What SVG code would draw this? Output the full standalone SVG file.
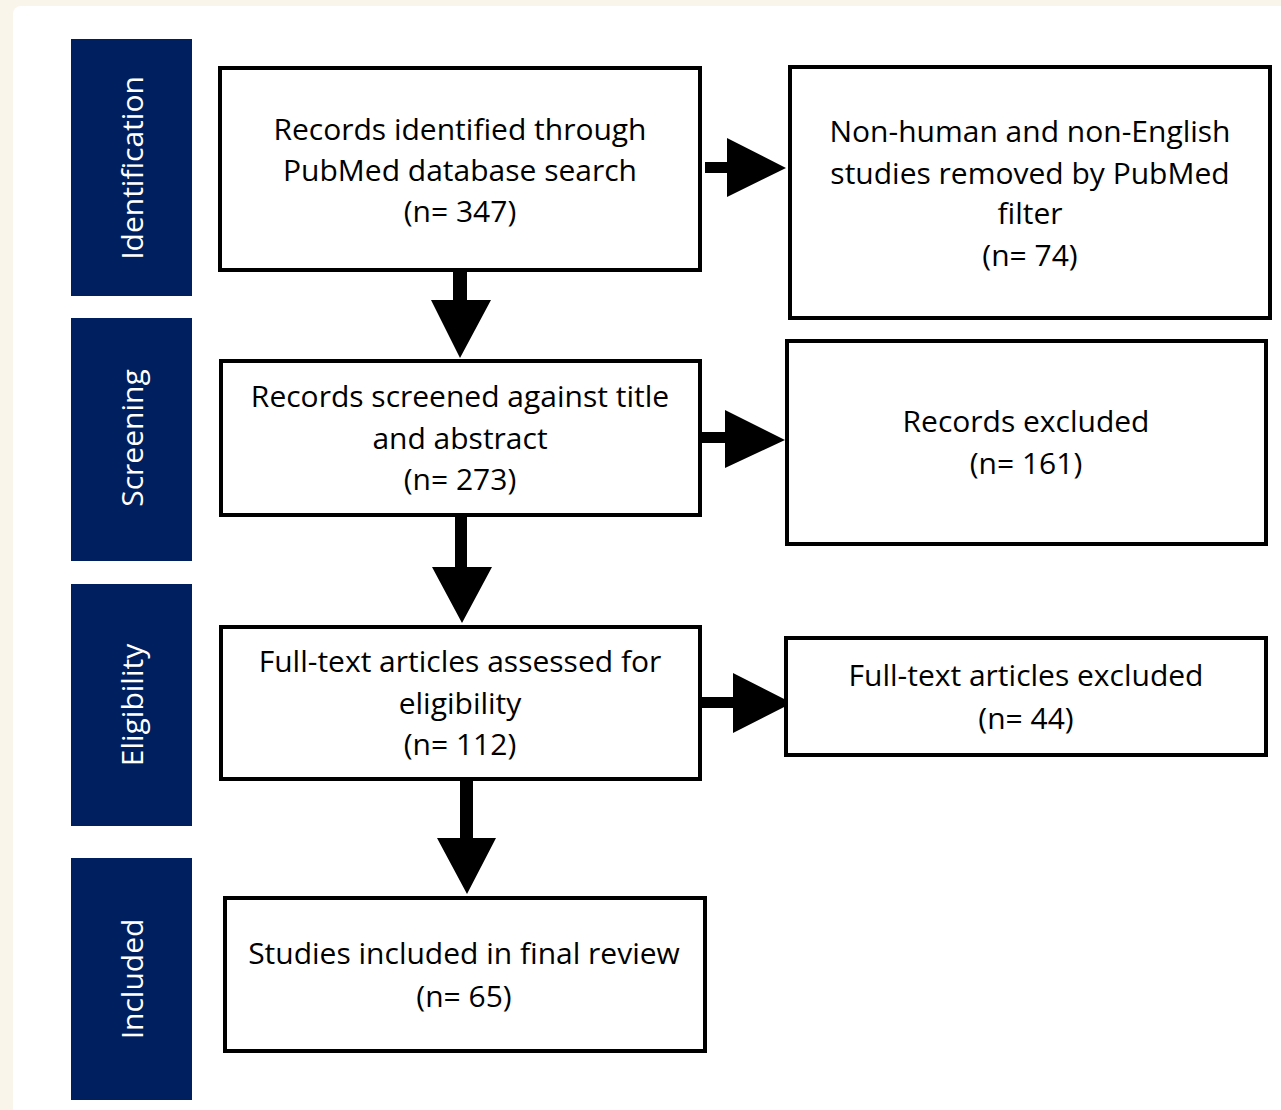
<svg xmlns="http://www.w3.org/2000/svg" width="1281" height="1110" viewBox="0 0 1281 1110">
<style>
.bar{fill:#001f5f}
.lab{fill:#ffffff;font-family:"Open Sans","Noto Sans",sans-serif;font-size:30px;text-anchor:middle}
.box{fill:#ffffff;stroke:#000000;stroke-width:4}
.t{fill:#000000;font-family:"Open Sans","Noto Sans",sans-serif;font-size:30px;text-anchor:middle}
.arr{fill:#000000}
</style>
<rect x="0" y="0" width="1281" height="1110" fill="#f9f5ea"/>
<rect x="13" y="6" width="1275" height="1110" rx="8" fill="#ffffff"/>

<g id="stage-identification">
<rect class="bar" x="71" y="39" width="121" height="257"/>
<text class="lab" transform="translate(143,168) rotate(-90)">Identification</text>
</g>
<g id="stage-screening">
<rect class="bar" x="71" y="318" width="121" height="243"/>
<text class="lab" transform="translate(143,438) rotate(-90)">Screening</text>
</g>
<g id="stage-eligibility">
<rect class="bar" x="71" y="584" width="121" height="242"/>
<text class="lab" transform="translate(143,705) rotate(-90)">Eligibility</text>
</g>
<g id="stage-included">
<rect class="bar" x="71" y="858" width="121" height="242"/>
<text class="lab" transform="translate(143,979) rotate(-90)">Included</text>
</g>

<g id="connectors">
<path class="arr" d="M705,162 H727 V138 L786,168 L727,197 V173 H705 Z"/>
<path class="arr" d="M453,271 H467 V300 H491 L460,358 L431,300 H453 Z"/>
<path class="arr" d="M701,432 H725 V410 L785,440 L725,468 V443 H701 Z"/>
<path class="arr" d="M455,516 H467 V567 H492 L462,623 L432,567 H455 Z"/>
<path class="arr" d="M701,697 H733 V673 L792,703 L733,733 V708 H701 Z"/>
<path class="arr" d="M460,780 H473 V838 H496 L467,894 L437,838 H460 Z"/>
</g>

<g id="n1">
<rect class="box" x="220" y="68" width="480" height="202"/>
<text class="t" x="460" y="140">Records identified through</text>
<text class="t" x="460" y="181">PubMed database search</text>
<text class="t" x="460" y="222">(n= 347)</text>
</g>
<g id="n2">
<rect class="box" x="790" y="67" width="480" height="251"/>
<text class="t" x="1030" y="142">Non-human and non-English</text>
<text class="t" x="1030" y="184">studies removed by PubMed</text>
<text class="t" x="1030" y="224">filter</text>
<text class="t" x="1030" y="266">(n= 74)</text>
</g>
<g id="n3">
<rect class="box" x="221" y="361" width="479" height="154"/>
<text class="t" x="460" y="407">Records screened against title</text>
<text class="t" x="460" y="449">and abstract</text>
<text class="t" x="460" y="490">(n= 273)</text>
</g>
<g id="n4">
<rect class="box" x="787" y="341" width="479" height="203"/>
<text class="t" x="1026" y="432">Records excluded</text>
<text class="t" x="1026" y="474">(n= 161)</text>
</g>
<g id="n5">
<rect class="box" x="221" y="627" width="479" height="152"/>
<text class="t" x="460" y="672">Full-text articles assessed for</text>
<text class="t" x="460" y="714">eligibility</text>
<text class="t" x="460" y="755">(n= 112)</text>
</g>
<g id="n6">
<rect class="box" x="786" y="638" width="480" height="117"/>
<text class="t" x="1026" y="686">Full-text articles excluded</text>
<text class="t" x="1026" y="729">(n= 44)</text>
</g>
<g id="n7">
<rect class="box" x="225" y="898" width="480" height="153"/>
<text class="t" x="464" y="964">Studies included in final review</text>
<text class="t" x="464" y="1007">(n= 65)</text>
</g>
</svg>
